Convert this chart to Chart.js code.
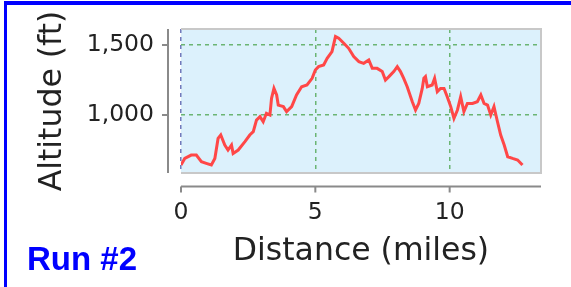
<!DOCTYPE html>
<html>
<head>
<meta charset="utf-8">
<script src="https://cdn.jsdelivr.net/npm/chart.js@4"></script>
<style>
  html, body { margin: 0; padding: 0; background: #fff; }
  #wrap { position: relative; width: 571px; height: 287px; overflow: hidden; }
  #myChart { position: absolute; left: 0; top: 0; }
  #frame { position: absolute; left: 4px; top: 1px; width: 570px; height: 290px;
           border-top: 4px solid #0000ff; border-left: 3px solid #0000ff; pointer-events: none; }
  #run { position: absolute; left: 27px; top: 242px; font: bold 33px "Liberation Sans", Arial, sans-serif;
         line-height: 33px; color: #0000ff; white-space: nowrap; }
</style>
</head>
<body>
<div id="wrap">
  <canvas id="myChart" width="571" height="287"></canvas>
  <div id="frame"></div>
  <div id="run">Run #2</div>
</div>
<script>
// distance along the trail (miles) and altitude (ft)
var distance = [0, 0.14, 0.38, 0.57, 0.76, 0.94, 1.13, 1.26, 1.38, 1.48, 1.63, 1.75, 1.88, 1.94, 2.13,
    2.38, 2.56, 2.69, 2.81, 2.94, 3.06, 3.18, 3.31, 3.37, 3.46, 3.56, 3.62, 3.81, 3.93, 4.12, 4.30,
    4.49, 4.69, 4.88, 5.0, 5.12, 5.31, 5.44, 5.62, 5.75, 5.87, 6.06, 6.24, 6.43, 6.62, 6.80, 6.99,
    7.12, 7.30, 7.49, 7.61, 7.74, 7.92, 8.05, 8.17, 8.29, 8.42, 8.61, 8.73, 8.85, 8.98, 9.04, 9.10,
    9.17, 9.35, 9.44, 9.54, 9.66, 9.79, 9.91, 10.04, 10.16, 10.29, 10.41, 10.53, 10.66, 10.85, 11.03,
    11.16, 11.28, 11.41, 11.53, 11.65, 11.78, 11.90, 12.03, 12.16, 12.34, 12.53, 12.71];
var altitude = [643, 690, 714, 714, 667, 655, 643, 690, 833, 857, 786, 750, 786, 726, 750,
    810, 857, 881, 964, 988, 952, 1012, 1000, 1119, 1190, 1143, 1071, 1060, 1024, 1060, 1143,
    1202, 1214, 1262, 1321, 1345, 1357, 1405, 1452, 1560, 1548, 1512, 1476, 1417, 1381, 1369, 1393,
    1333, 1333, 1310, 1250, 1274, 1310, 1345, 1310, 1262, 1202, 1095, 1036, 1083, 1190, 1262, 1274,
    1202, 1214, 1262, 1167, 1190, 1190, 1131, 1060, 976, 1036, 1131, 1024, 1083, 1083, 1095,
    1143, 1083, 1071, 1000, 1060, 952, 857, 786, 702, 690, 679, 643];
var xRange = [0, 13.4];
var yRange = [586, 1614];
var xTicks = [0, 5, 10];
var yTicks = [1000, 1500];

var points = distance.map(function (d, i) { return {x: d, y: altitude[i]}; });

var font = "'DejaVu Sans', sans-serif";

// plot background + light grey frame
var plotBox = {
    id: "plotBox",
    beforeDraw: function (chart) {
        var a = chart.chartArea, c = chart.ctx;
        c.save();
        c.fillStyle = "#dcf1fc";
        c.fillRect(a.left, a.top, a.right - a.left, a.bottom - a.top);
        c.restore();
    },
    beforeDatasetsDraw: function (chart) {
        var a = chart.chartArea, c = chart.ctx;
        c.save();
        c.strokeStyle = "#c8c8c8";
        c.lineWidth = 2;
        c.beginPath();
        c.moveTo(a.left, a.top); c.lineTo(a.right, a.top);
        c.lineTo(a.right, a.bottom); c.lineTo(a.left, a.bottom);
        c.stroke();
        c.restore();
    }
};

// detached axis spines with small tick marks
var spines = {
    id: "spines",
    afterDraw: function (chart) {
        var a = chart.chartArea, c = chart.ctx;
        var xs = chart.scales.x, ys = chart.scales.y;
        var sx = a.left - 13, sy = a.bottom + 13.5;
        c.save();
        c.strokeStyle = "#8a8a8a";
        c.lineWidth = 2;
        c.beginPath();
        c.moveTo(sx, a.top); c.lineTo(sx, a.bottom);
        ys.ticks.forEach(function (t) {
            var p = ys.getPixelForValue(t.value);
            c.moveTo(sx - 6, p); c.lineTo(sx, p);
        });
        c.moveTo(a.left, sy); c.lineTo(a.right, sy);
        xs.ticks.forEach(function (t) {
            var p = xs.getPixelForValue(t.value);
            c.moveTo(p, sy); c.lineTo(p, sy + 6);
        });
        c.stroke();
        c.restore();
    }
};

new Chart("myChart", {
    type: "line",
    data: {
        datasets: [{
            data: points,
            borderColor: "#ff4747",
            borderWidth: 3,
            pointRadius: 0,
            tension: 0,
            fill: false
        }]
    },
    options: {
        responsive: false,
        animation: false,
        devicePixelRatio: 1,
        layout: {padding: {left: 0, top: 29, right: 30, bottom: 0}},
        plugins: {legend: {display: false}, tooltip: {enabled: false}},
        scales: {
            x: {
                type: "linear",
                min: xRange[0], max: xRange[1],
                afterBuildTicks: function (s) { s.ticks = xTicks.map(function (v) { return {value: v}; }); },
                afterFit: function (s) { s.height = 114; s.paddingLeft = 0; s.paddingRight = 0; },
                ticks: {padding: 26, color: "#222", font: {family: font, size: 23.5}},
                grid: {drawTicks: false, lineWidth: 1.5, borderDash: [4, 4],
                       color: function (ctx) { return ctx.tick && ctx.tick.value === 0 ? "rgba(80,90,170,0.8)" : "rgba(70,160,70,0.75)"; }},
                border: {display: false, dash: [4, 4]},
                title: {display: true, text: "Distance (miles)", color: "#222",
                        font: {family: font, size: 31.5}, padding: {top: 0, bottom: 16}}
            },
            y: {
                min: yRange[0], max: yRange[1],
                afterBuildTicks: function (s) { s.ticks = yTicks.map(function (v) { return {value: v}; }); },
                afterFit: function (s) { s.width = 181; s.paddingTop = 0; s.paddingBottom = 0; },
                ticks: {padding: 27, color: "#222", font: {family: font, size: 23.5}},
                grid: {drawTicks: false, lineWidth: 1.5, borderDash: [4, 4], color: "rgba(70,160,70,0.75)"},
                border: {display: false, dash: [4, 4]},
                title: {display: true, text: "Altitude (ft)", color: "#222",
                        font: {family: font, size: 31.5}, padding: {top: 34, bottom: 0}}
            }
        }
    },
    plugins: [plotBox, spines]
});
</script>
</body>
</html>
